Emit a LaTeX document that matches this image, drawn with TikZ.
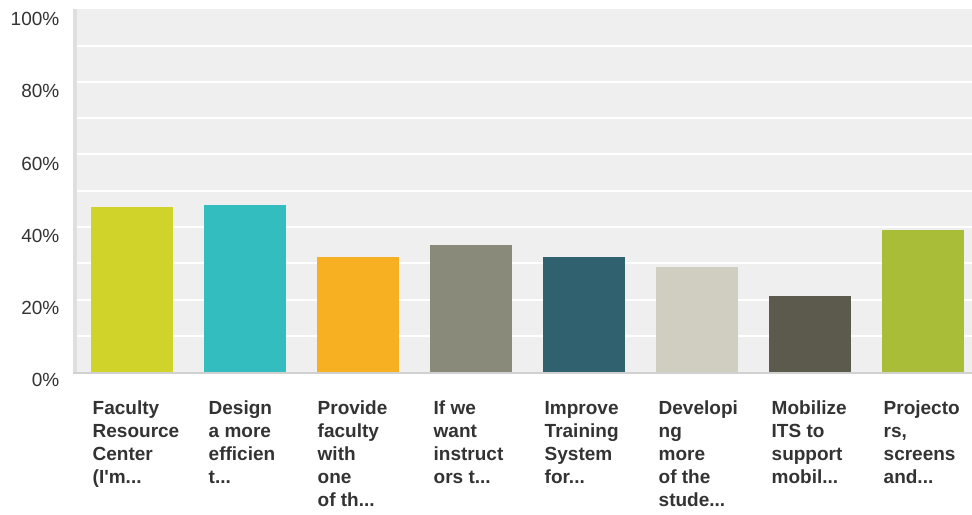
\documentclass[tikz,border=0pt]{standalone}
\usepackage{fontspec}
\setmainfont{Liberation Sans}[Ligatures=TeXOff]
\definecolor{plotbg}{HTML}{EFEFEF}
\definecolor{axisv}{HTML}{DFDFDF}
\definecolor{axish}{HTML}{D0D0D0}
\definecolor{txt}{HTML}{333333}
\definecolor{cA}{HTML}{D0D42A}
\definecolor{cB}{HTML}{33BDBF}
\definecolor{cC}{HTML}{F7B021}
\definecolor{cD}{HTML}{8A8A7A}
\definecolor{cE}{HTML}{2F626E}
\definecolor{cF}{HTML}{D0CEC0}
\definecolor{cG}{HTML}{5C5A4C}
\definecolor{cH}{HTML}{AABD39}
\tikzset{
  ticklab/.style={anchor=base east, inner sep=0pt, text=txt, font=\fontsize{19bp}{23bp}\selectfont},
  catlab/.style={anchor=north west, inner sep=0pt, text=txt, align=left, font=\fontsize{19bp}{23bp}\selectfont\bfseries},
  grid line/.style={draw=white, line width=2bp},
}
\begin{document}
\begin{tikzpicture}[x=1bp, y=-1bp]
\useasboundingbox (0,0) rectangle (972,515);
% plot area
\fill[plotbg] (73,9) rectangle (972,372.3);
\foreach \k in {1,...,9} {
  \draw[grid line] (77,{372.3-36.3*\k}) -- (972,{372.3-36.3*\k});
}
\fill[axisv] (73,9) rectangle (76.5,373);
% bars
\foreach \i/\v/\c in {0/45.6/cA, 1/46.1/cB, 2/31.8/cC, 3/35.1/cD, 4/31.8/cE, 5/29.0/cF, 6/21.0/cG, 7/39.2/cH} {
  \fill[\c] ({91+113*\i},372.3) rectangle ({173+113*\i},{372.3-3.63*\v});
}
\fill[axish] (73,371.8) rectangle (972,374);
% y tick labels
\node[ticklab] (t100) at (59.5,26) {100\%};
\node[ticklab] (t80) at (59.5,98) {80\%};
\node[ticklab] (t60) at (59.5,170.2) {60\%};
\node[ticklab] (t40) at (59.5,242.3) {40\%};
\node[ticklab] (t20) at (59.5,314.4) {20\%};
\node[ticklab] (t0) at (59.5,386.5) {0\%};
% category labels (top of strut = first baseline 414.3 - 16.1)
\node[catlab] (l1) at (92.5,398.2) {\strut Faculty\\Resource\\Center\\(I'm...};
\node[catlab] (l2) at (208.5,398.2) {\strut Design\\a more\\efficien\\t...};
\node[catlab] (l3) at (317.5,398.2) {\strut Provide\\faculty\\with\\one\\of th...};
\node[catlab] (l4) at (433.5,398.2) {\strut If we\\want\\instruct\\ors t...};
\node[catlab] (l5) at (544.5,398.2) {\strut Improve\\Training\\System\\for...};
\node[catlab] (l6) at (658.5,398.2) {\strut Developi\\ng\\more\\of the\\stude...};
\node[catlab] (l7) at (771.5,398.2) {\strut Mobilize\\ITS to\\support\\mobil...};
\node[catlab] (l8) at (883.5,398.2) {\strut Projecto\\rs,\\screens\\and...};
\end{tikzpicture}
\end{document}
